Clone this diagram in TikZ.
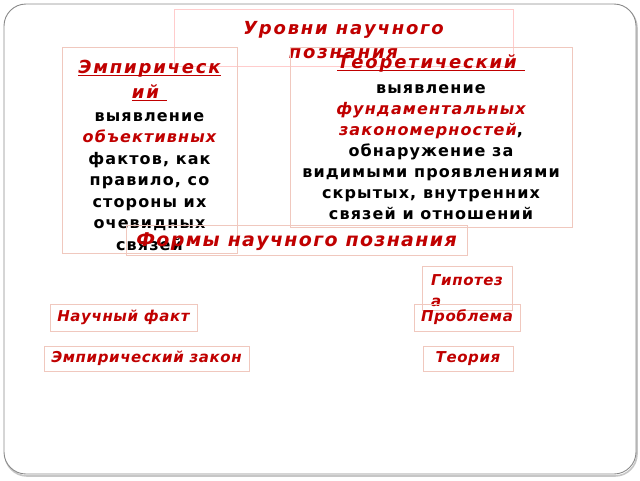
\documentclass[tikz,border=0pt]{standalone}
\usepackage{fontspec}
\setmainfont{DejaVu Sans}
\definecolor{darkred}{HTML}{C00000}
\definecolor{boxline}{HTML}{F0C8BE}
\definecolor{frameline}{HTML}{8A8A8A}
\newcommand\redit[1]{\textcolor{darkred}{\itshape #1}}
\newcommand\redline[1]{\setbox0\hbox{#1}\rlap{\rule[-2.5pt]{\wd0}{1.1pt}}\box0}
\newcommand\redhead[1]{\fontsize{18}{24}\selectfont\addfontfeature{LetterSpace=10}\redit{\redline{#1}}}

\begin{document}
\begin{tikzpicture}[x=1pt,y=-1pt,
    every node/.style={inner sep=2pt,font=\bfseries},
    box/.style={draw=boxline,line width=0.8pt,align=center},
    body/.style={font=\fontsize{16}{21.5}\selectfont\bfseries\addfontfeature{LetterSpace=7}},
    small/.style={font=\fontsize{15}{21}\selectfont\bfseries\itshape\addfontfeature{LetterSpace=4},
      text=darkred}]
    \useasboundingbox(0,0)rectangle(640,480);
    \draw[gray!45,line width=1.6pt,rounded corners=22pt](5,6)rectangle(637,476);
    \draw[frameline,line width=0.9pt,fill=white,rounded corners=22pt](4,4)rectangle(636,474);
    \node[box,draw=red!20,minimum width=339pt,minimum height=57pt,
      font=\fontsize{18}{25}\selectfont\bfseries\itshape\addfontfeature{LetterSpace=10},text=darkred]
      (title) at (343.5,37.5){\rule{0pt}{18pt}Уровни научного\\[-1pt]познания};
    \node[box,body,minimum width=175pt,minimum height=206pt]
      (emp) at (149.5,150){\rule{0pt}{24pt}\redhead{Эмпирическ}\\[3.5pt]\redhead{ий\ }\\[1.5pt]
      выявление\\\redit{объективных}\\фактов, как\\правило, со\\стороны их\\очевидных\\связей};
    \node[box,body,font=\fontsize{16}{21}\selectfont\bfseries\addfontfeature{LetterSpace=7},
      minimum width=282pt,minimum height=180pt]
      (theor) at (431,137){\redhead{Теоретический\ }\\[4pt]
      выявление\\\redit{фундаментальных}\\\redit{закономерностей},\\обнаружение за\\
      видимыми проявлениями\\скрытых, внутренних\\связей и отношений};
    \node[box,minimum width=341pt,minimum height=30pt,
      font=\fontsize{19}{23}\selectfont\bfseries\itshape\addfontfeature{LetterSpace=7},text=darkred]
      (forms) at (296.5,240){\rule{0pt}{18pt}Формы научного познания};
    \node[box,small,align=left,minimum width=90pt,minimum height=44pt]
      (hyp) at (467,288){\rule{0pt}{16pt}Гипотез\\а\hspace{50pt}};
    \node[box,small,minimum width=147pt,minimum height=27pt]
      (fact) at (123.5,317.5){Научный факт};
    \node[box,small,inner sep=0pt,minimum width=106pt,minimum height=27pt]
      (problem) at (467,317.5){Проблема};
    \node[box,small,minimum width=205pt,minimum height=25pt]
      (law) at (146.5,358.5){Эмпирический закон};
    \node[box,small,minimum width=90pt,minimum height=25pt]
      (theory) at (468,358.5){Теория};
  \end{tikzpicture}
\end{document}
